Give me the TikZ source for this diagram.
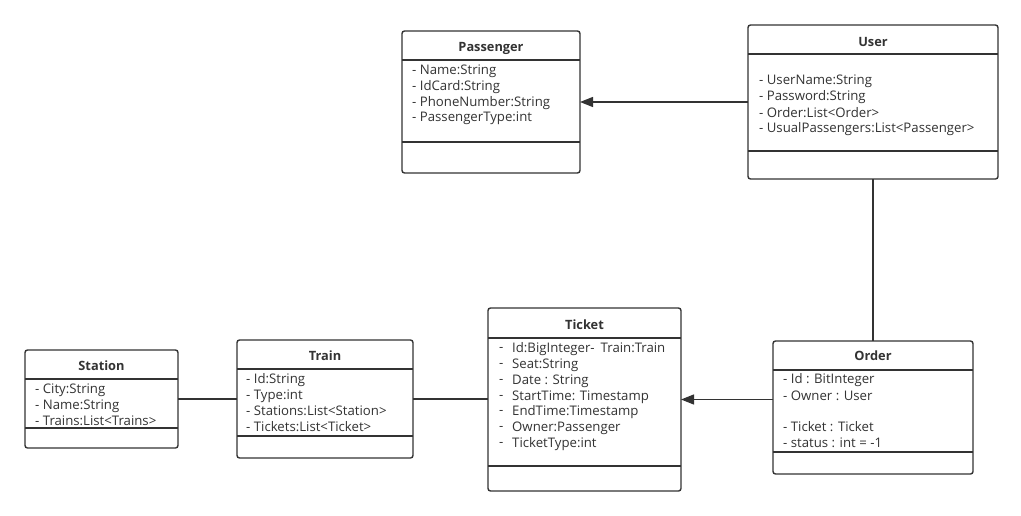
\documentclass[tikz,border=0pt]{standalone}
\usepackage{fontspec}
\setmainfont{Open Sans}
\usetikzlibrary{arrows.meta,calc}
\definecolor{linec}{HTML}{333333}
\definecolor{txtc}{HTML}{333333}
\begin{document}
\begin{tikzpicture}[x=1pt,y=-1pt,
  cls/.style={draw=linec, line width=1.4pt, rounded corners=2.5pt, fill=white, inner sep=0pt, outer sep=0pt, anchor=north west},
  ttl/.style={font=\fontsize{12.8}{14}\selectfont\bfseries, text=txtc, inner sep=0pt},
  attr/.style={anchor=west, font=\fontsize{13.2}{14}\selectfont, text=txtc, inner sep=0pt},
  sepline/.style={draw=linec, line width=1.4pt},
  conn/.style={draw=linec, line width=1.4pt},
  arr/.style={conn, -{Triangle[length=13pt,width=10pt]}}]
\useasboundingbox (0,0) rectangle (1021,515);

% Passenger
\node[cls, minimum width=178pt, minimum height=142pt] (pass) at (402,31) {};
\node[ttl] (passT) at (491,48) {Passenger};
\draw[sepline] ($(pass.north west)+(0,29)$) -- ($(pass.north east)+(0,29)$);
\draw[sepline] ($(pass.north west)+(0,111)$) -- ($(pass.north east)+(0,111)$);
\node[attr] (pa1) at (412,71) {- Name:String};
\node[attr] (pa2) at (412,87) {- IdCard:String};
\node[attr] (pa3) at (412,103) {- PhoneNumber:String};
\node[attr] (pa4) at (412,118) {- PassengerType:int};

% User
\node[cls, minimum width=250pt, minimum height=154pt] (user) at (748,25) {};
\node[ttl] (userT) at (873,42) {User};
\draw[sepline] ($(user.north west)+(0,29)$) -- ($(user.north east)+(0,29)$);
\draw[sepline] ($(user.north west)+(0,126)$) -- ($(user.north east)+(0,126)$);
\node[attr] (ua1) at (759,81) {- UserName:String};
\node[attr] (ua2) at (759,97) {- Password:String};
\node[attr] (ua3) at (759,113) {- Order:List<Order>};
\node[attr] (ua4) at (759,129) {- UsualPassengers:List<Passenger>};

% Station
\node[cls, minimum width=153pt, minimum height=98pt] (stat) at (25,350) {};
\node[ttl] (statT) at (101.5,366) {Station};
\draw[sepline] ($(stat.north west)+(0,29)$) -- ($(stat.north east)+(0,29)$);
\draw[sepline] ($(stat.north west)+(0,78)$) -- ($(stat.north east)+(0,78)$);
\node[attr] (sa1) at (35,390) {- City:String};
\node[attr] (sa2) at (35,406) {- Name:String};
\node[attr] (sa3) at (35,421) {- Trains:List<Trains>};

% Train
\node[cls, minimum width=176pt, minimum height=118pt] (train) at (237,340) {};
\node[ttl] (trainT) at (325,356) {Train};
\draw[sepline] ($(train.north west)+(0,29)$) -- ($(train.north east)+(0,29)$);
\draw[sepline] ($(train.north west)+(0,96)$) -- ($(train.north east)+(0,96)$);
\node[attr] (ta1) at (246,380) {- Id:String};
\node[attr] (ta2) at (246,396) {- Type:int};
\node[attr] (ta3) at (246,411) {- Stations:List<Station>};
\node[attr] (ta4) at (246,427) {- Tickets:List<Ticket>};

% Ticket
\node[cls, minimum width=193pt, minimum height=183pt] (tick) at (488,308) {};
\node[ttl] (tickT) at (584.5,325) {Ticket};
\draw[sepline] ($(tick.north west)+(0,30)$) -- ($(tick.north east)+(0,30)$);
\draw[sepline] ($(tick.north west)+(0,158)$) -- ($(tick.north east)+(0,158)$);
\node[attr] (kd1) at (499,349) {-};
\node[attr] (kd2) at (499,365) {-};
\node[attr] (kd3) at (499,381) {-};
\node[attr] (kd4) at (499,397) {-};
\node[attr] (kd5) at (499,412) {-};
\node[attr] (kd6) at (499,428) {-};
\node[attr] (kd7) at (499,444) {-};
\node[attr] (ka1) at (512,349) {Id:BigInteger-\hspace{6pt}Train:Train};
\node[attr] (ka2) at (512,365) {Seat:String};
\node[attr] (ka3) at (512,381) {Date : String};
\node[attr] (ka4) at (512,397) {StartTime: Timestamp};
\node[attr] (ka5) at (512,412) {EndTime:Timestamp};
\node[attr] (ka6) at (512,428) {Owner:Passenger};
\node[attr] (ka7) at (512,444) {TicketType:int};

% Order
\node[cls, minimum width=200pt, minimum height=133pt] (ord) at (773,341) {};
\node[ttl] (ordT) at (873,356) {Order};
\draw[sepline] ($(ord.north west)+(0,29)$) -- ($(ord.north east)+(0,29)$);
\draw[sepline] ($(ord.north west)+(0,111)$) -- ($(ord.north east)+(0,111)$);
\node[attr] (oa1) at (783,380) {- Id : BitInteger};
\node[attr] (oa2) at (783,396) {- Owner : User};
\node[attr] (oa3) at (783,427) {- Ticket : Ticket};
\node[attr] (oa4) at (783,443) {- status : int = -1};

% connectors
\draw[arr] (user.west) -- (pass.east);
\draw[conn] (user.south) -- (ord.north);
\draw[arr] (ord.west |- tick.east) -- (tick.east);
\draw[conn] (train.east) -- (tick.west |- train.east);
\draw[conn] (stat.east) -- (train.west);
\end{tikzpicture}
\end{document}
